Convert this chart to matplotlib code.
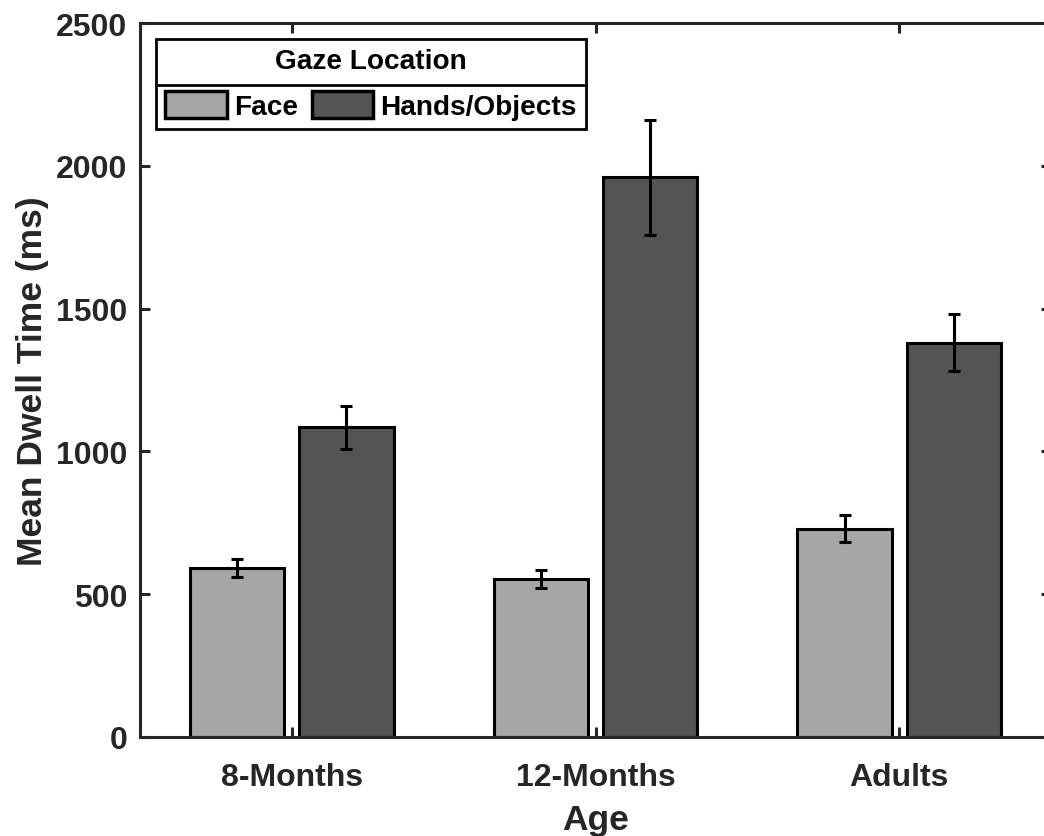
import matplotlib.pyplot as plt
import numpy as np
from matplotlib.lines import Line2D

plt.rcParams["font.family"] = ["Liberation Sans", "DejaVu Sans"]
plt.rcParams["font.weight"] = "bold"
plt.rcParams["axes.labelweight"] = "bold"

# mean dwell time per age group, with standard errors
ages = ["8-Months", "12-Months", "Adults"]
face_mean = [592, 553, 730]
face_err = [33, 30, 47]
hands_mean = [1085, 1960, 1380]
hands_err = [75, 201, 100]

face_color = "#a6a6a6"
hands_color = "#545454"
axis_color = "#262626"

fig = plt.figure(figsize=(10.44, 8.37), dpi=100)
ax = fig.add_axes([140 / 1044, 1 - 738 / 837, 911 / 1044, 714 / 837])

x = np.arange(1, len(ages) + 1)
offset = 0.18
width = 0.31

ax.bar(x - offset, face_mean, width, color=face_color, edgecolor="black",
       linewidth=2.2, label="Face", zorder=2)
ax.bar(x + offset, hands_mean, width, color=hands_color, edgecolor="black",
       linewidth=2.2, label="Hands/Objects", zorder=2)
ax.errorbar(x - offset, face_mean, yerr=face_err, fmt="none", ecolor="black",
            elinewidth=2.2, capsize=4.5, capthick=2.2, zorder=3)
ax.errorbar(x + offset, hands_mean, yerr=hands_err, fmt="none", ecolor="black",
            elinewidth=2.2, capsize=4.5, capthick=2.2, zorder=3)

ax.set_xlim(0.5, 3.5)
ax.set_ylim(0, 2500)
ax.set_xticks(x)
ax.set_xticklabels(ages)
ax.set_yticks(np.arange(0, 2501, 500))

for s in ax.spines.values():
    s.set_linewidth(2.2)
    s.set_color(axis_color)
    s.set_zorder(4)
ax.tick_params(direction="in", length=7, width=2.2, color=axis_color,
               labelsize=23, labelcolor=axis_color, top=True, right=True)
ax.tick_params(axis="y", pad=9)
ax.tick_params(axis="x", pad=18)

ax.set_xlabel("Age", fontsize=25.5, color=axis_color, labelpad=8)
ax.set_ylabel("Mean Dwell Time (ms)", fontsize=25.5, color=axis_color, labelpad=5)

leg = ax.legend(title="Gaze Location", ncol=2, loc="upper left",
                fontsize=20.2, title_fontsize=20.2, fancybox=False,
                edgecolor="black", framealpha=1, borderaxespad=0.57,
                handlelength=2.2, handleheight=1.1, handletextpad=0.25,
                columnspacing=0.5, borderpad=0.32, labelspacing=0.6)
leg.get_frame().set_linewidth(2)
leg.get_title().set_fontweight("bold")
for h in leg.legend_handles:
    h.set_linewidth(2.5)

# rule between the legend title and its entries
fig.canvas.draw()
inv = fig.transFigure.inverted()
frame_bb = leg.get_frame().get_window_extent()
patch_top = max(h.get_window_extent().y1 for h in leg.legend_handles)
y_sep = patch_top + 6
(x0, y0) = inv.transform((frame_bb.x0, y_sep))
(x1, _) = inv.transform((frame_bb.x1, y_sep))
fig.add_artist(Line2D([x0, x1], [y0, y0], color="black", linewidth=2,
                      transform=fig.transFigure, zorder=10))

fig.savefig("out.png", dpi=100)
